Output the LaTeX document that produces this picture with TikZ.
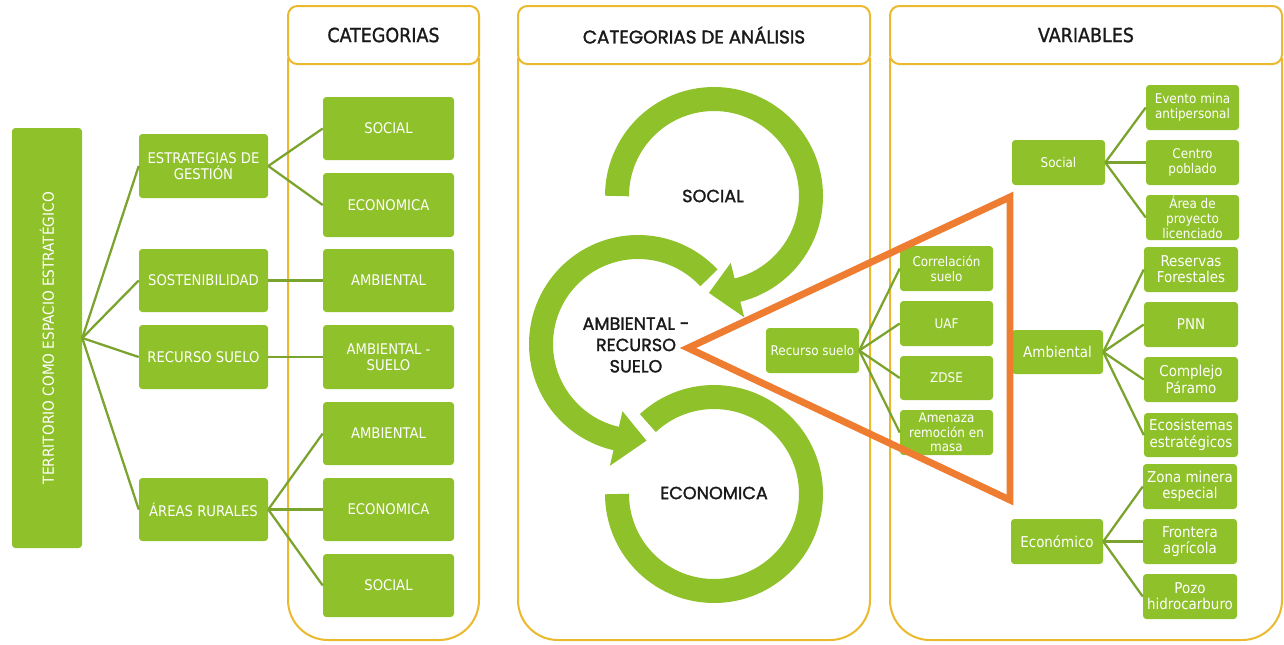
\documentclass[tikz,border=0pt]{standalone}
\usepackage{fontspec}
\usepackage{graphicx}
\setmainfont{DejaVu Sans Condensed}
\newfontfamily\geofont[FakeBold=1.6]{Poppins}
\newfontfamily\headfont[FakeBold=1.2]{DejaVu Sans Condensed}
\usetikzlibrary{calc}
\definecolor{leaf}{HTML}{8FC12A}
\definecolor{twig}{HTML}{7AA42E}
\definecolor{frame}{HTML}{EBB92E}
\definecolor{flame}{HTML}{EE7D31}
\definecolor{ink}{HTML}{1A1A1A}
\tikzset{
  gbox/.style={fill=leaf, rounded corners=2.5pt, text=white, align=center, inner sep=0pt,
    font=\fontsize{10}{11}\selectfont},
  large/.style={font=\fontsize{11.2}{12.2}\selectfont},
  caps/.style={font=\fontsize{11}{12.2}\selectfont},
  link/.style={draw=twig, line width=1.7pt},
  panel/.style={draw=frame, line width=1.5pt},
  headbox/.style={panel, fill=white, rounded corners=7pt, text=ink,
    font=\headfont\fontsize{14.6}{16}\selectfont},
  ring/.style={draw=leaf, line width=18pt},
  tip/.style={fill=leaf},
  ringlabel/.style={text=ink, font=\geofont\fontsize{13.2}{16}\selectfont, align=center},
  wedge/.style={draw=flame, line width=5.2pt, line join=miter},
}
% green box given by its corners: [style]{name}{x1}{y1}{x2}{y2}{text}
\newcommand\gnode[7][]{%
  \node[gbox,#1,minimum width={(#5-#3)*0.75pt},minimum height={(#6-#4)*0.75pt}]
    (#2) at ({(#3+#5)/2},{(#4+#6)/2}) {#7};}
\begin{document}
\begin{tikzpicture}[x=0.75pt,y=-0.75pt]
\useasboundingbox (0,0) rectangle (1284,644);
\fill[white] (0,0) rectangle (1284,644);

% ---- column frames ----
\draw[panel, rounded corners=30pt] (288,58) -- (288,640) -- (479,640) -- (479,58);
\draw[panel, rounded corners=30pt] (518,58) -- (518,640) -- (870,640) -- (870,58);
\draw[panel, rounded corners=30pt] (890,58) -- (890,640) -- (1282,640) -- (1282,58);
\node[headbox, minimum width={191*0.75pt}, minimum height={58*0.75pt}] (hcat) at (383.5,35) {CATEGORIAS};
\node[headbox, minimum width={352*0.75pt}, minimum height={58*0.75pt},
  font=\geofont\fontsize{13.8}{15}\selectfont] (hana) at (694,35) {CATEGORIAS DE ANÁLISIS};
\node[headbox, minimum width={392*0.75pt}, minimum height={58*0.75pt}] (hvar) at (1086,35) {VARIABLES};

% ---- left tree ----
\gnode[font=\fontsize{11.4}{12}\selectfont]{terr}{12}{128}{82}{548}{\rotatebox{90}{TERRITORIO COMO ESPACIO ESTRATÉGICO}}
\gnode[caps]{strat}{139}{134}{268}{198}{ESTRATEGIAS DE\\GESTIÓN}
\gnode[caps]{sost}{139}{249}{268}{312}{SOSTENIBILIDAD}
\gnode[caps]{recs}{139}{325}{268}{389}{RECURSO SUELO}
\gnode[caps]{rural}{139}{478}{268}{541}{ÁREAS RURALES}

\gnode[caps]{socA}{323}{97}{454}{160}{SOCIAL}
\gnode[caps]{ecoA}{323}{173}{454}{237}{ECONOMICA}
\gnode[caps]{ambA}{323}{249}{454}{312}{AMBIENTAL}
\gnode[caps]{ambS}{323}{325}{454}{389}{AMBIENTAL -\\SUELO}
\gnode[caps]{ambB}{323}{402}{454}{465}{AMBIENTAL}
\gnode[caps]{ecoB}{323}{478}{454}{541}{ECONOMICA}
\gnode[caps]{socB}{323}{554}{454}{617}{SOCIAL}

\foreach \t in {strat,sost,recs,rural} \draw[link] (terr.east) -- (\t.west);
\draw[link] (strat.east) -- (socA.west);
\draw[link] (strat.east) -- (ecoA.west);
\draw[link] (sost.east) -- (ambA.west);
\draw[link] (recs.east) -- (ambS.west);
\draw[link] (rural.east) -- (ambB.west);
\draw[link] (rural.east) -- (ecoB.west);
\draw[link] (rural.east) -- (socB.west);

% ---- circular arrows ----
\coordinate (T) at (714,196);
\coordinate (M) at (638,344);
\coordinate (B) at (714,494);
\draw[ring] ($(T)+(-180:97)$) arc[start angle=-180, end angle=77, radius=97];
\fill[tip] ($(T)+(76:69)$) -- ($(T)+(76:125)$) -- ($(T)+(93:97)$) -- cycle;
\draw[ring] ($(M)+(-43:97)$) arc[start angle=-43, end angle=-258, radius=97];
\fill[tip] ($(M)+(-257:69)$) -- ($(M)+(-257:125)$) -- ($(M)+(-275:97)$) -- cycle;
\draw[ring] ($(B)+(-133:97)$) arc[start angle=-133, end angle=180, radius=97];

\node[ringlabel] (lsoc) at (713,196) {SOCIAL};
\node[ringlabel] (lamb) at (636,345) {AMBIENTAL -\\RECURSO\\SUELO};
\node[ringlabel] (leco) at (714,493) {ECONOMICA};

% ---- soil resource branch ----
\gnode{rs}{766}{328}{859}{373}{Recurso suelo}
\gnode{cs}{900}{246}{993}{291}{Correlación\\suelo}
\gnode{uaf}{900}{301}{993}{346}{UAF}
\gnode{zdse}{900}{356}{993}{400}{ZDSE}
\gnode{amen}{900}{410}{993}{455}{Amenaza\\remoción en\\masa}
\foreach \t in {cs,uaf,zdse,amen} \draw[link] (rs.east) -- (\t.west);

% ---- variables ----
\gnode{vsoc}{1012}{140}{1105}{185}{Social}
\gnode{ev}{1146}{85}{1239}{130}{Evento mina\\antipersonal}
\gnode{cp}{1146}{140}{1239}{185}{Centro\\poblado}
\gnode{ap}{1146}{195}{1239}{240}{Área de\\proyecto\\licenciado}

\gnode[large]{vamb}{1012}{330}{1103}{374}{Ambiental}
\gnode[large]{rf}{1144}{247}{1238}{292}{Reservas\\Forestales}
\gnode[large]{pnn}{1144}{302}{1238}{347}{PNN}
\gnode[large]{cpar}{1144}{357}{1238}{402}{Complejo\\Páramo}
\gnode[large]{eco}{1144}{413}{1238}{457}{Ecosistemas\\estratégicos}

\gnode[large]{veco}{1011}{519}{1103}{564}{Económico}
\gnode[large]{zm}{1143}{464}{1237}{509}{Zona minera\\especial}
\gnode[large]{fa}{1143}{519}{1237}{564}{Frontera\\agrícola}
\gnode[large]{ph}{1143}{574}{1237}{619}{Pozo\\hidrocarburo}

\foreach \t in {ev,cp,ap} \draw[link] (vsoc.east) -- (\t.west);
\foreach \t in {rf,pnn,cpar,eco} \draw[link] (vamb.east) -- (\t.west);
\foreach \t in {zm,fa,ph} \draw[link] (veco.east) -- (\t.west);

% ---- orange wedge ----
\coordinate (w1) at (688,348);
\coordinate (w2) at (1010,197);
\coordinate (w3) at (1010,500);
\draw[wedge] (w1) -- (w2) -- (w3) -- cycle;
\end{tikzpicture}
\end{document}
